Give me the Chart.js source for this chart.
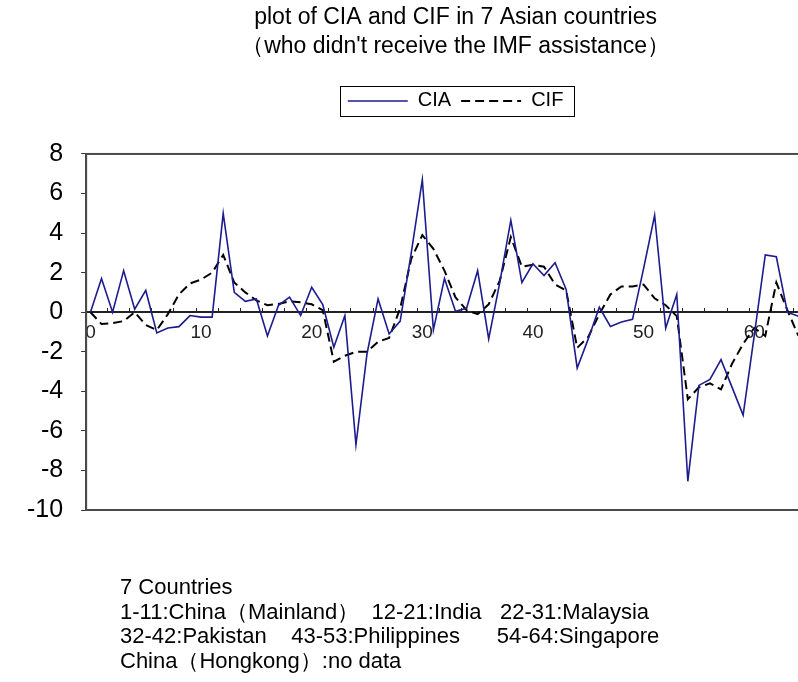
<!DOCTYPE html>
<html>
<head>
<meta charset="utf-8">
<title>plot of CIA and CIF</title>
<script src="https://cdn.jsdelivr.net/npm/chart.js@4.4.0/dist/chart.umd.min.js"></script>
<style>
    html, body { margin: 0; padding: 0; background: #ffffff; overflow: hidden; }
    #wrap { width: 798px; height: 682px; overflow: hidden; position: relative; }
    canvas { display: block; }
</style>
</head>
<body>
<div id="wrap"><canvas id="chart" width="830" height="682"></canvas></div>
<script>
// observation number (countries stacked one after another)
const obsNo = [0, 1, 2, 3, 4, 5, 6, 7, 8, 9,
    10, 11, 12, 13, 14, 15, 16, 17, 18, 19,
    20, 21, 22, 23, 24, 25, 26, 27, 28, 29,
    30, 31, 32, 33, 34, 35, 36, 37, 38, 39,
    40, 41, 42, 43, 44, 45, 46, 47, 48, 49,
    50, 51, 52, 53, 54, 55, 56, 57, 58, 59,
    60, 61, 62, 63, 64];

const ciaValues = [0, 1.7, 0, 2.1, 0.15, 1.1, -1.05, -0.8, -0.73, -0.17,
    -0.25, -0.25, 5.0, 1.0, 0.55, 0.67, -1.2, 0.35, 0.76, -0.17,
    1.26, 0.38, -1.77, -0.17, -6.7, -2.1, 0.67, -1.1, -0.45, 3.0,
    6.7, -0.9, 1.7, 0.05, 0.2, 2.1, -1.35, 1.5, 4.65, 1.5,
    2.45, 1.85, 2.5, 1.15, -2.82, -1.35, 0.25, -0.72, -0.5, -0.36,
    2.2, 4.9, -0.8, 0.9, -8.55, -3.7, -3.4, -2.4, -3.8, -5.2,
    -1.2, 2.9, 2.8, 0, -0.2];

const cifValues = [0, -0.6, -0.55, -0.45, 0, -0.65, -0.9, -0.1, 0.9, 1.45,
    1.65, 2.0, 2.9, 1.5, 1.0, 0.6, 0.35, 0.42, 0.55, 0.5,
    0.4, 0.1, -2.5, -2.2, -2.0, -2.0, -1.5, -1.3, 0.2, 2.7,
    3.9, 3.2, 2.1, 0.75, 0.1, -0.1, 0.4, 1.6, 3.8, 2.3,
    2.4, 2.3, 1.4, 1.1, -1.8, -1.25, -0.1, 0.9, 1.3, 1.3,
    1.4, 0.7, 0.35, -0.2, -4.4, -3.8, -3.6, -3.9, -2.6, -1.6,
    -0.8, -1.2, 1.5, 0.1, -1.2];

const xTickLabels = [0, 10, 20, 30, 40, 50, 60];
const yTickStep = 2;

const titleLines = ['plot of CIA and CIF in 7 Asian countries', '（who didn\'t receive the IMF assistance）'];
const noteLines = [
    '7 Countries',
    '1-11:China（Mainland）  12-21:India   22-31:Malaysia',
    '32-42:Pakistan    43-53:Philippines      54-64:Singapore',
    'China（Hongkong）:no data'
];

const FONT = '"Liberation Sans", Arial, sans-serif';

const toPoints = (vals) => obsNo.map((x, i) => ({ x: x, y: vals[i] }));

// plot area frame + small upward tick marks on the zero line
const frameMarks = {
    id: 'frameMarks',
    beforeDatasetsDraw(chart) {
        const { ctx, chartArea: a, scales } = chart;
        ctx.save();
        ctx.strokeStyle = '#4a4a4a';
        ctx.lineWidth = 2;
        ctx.strokeRect(a.left, a.top, a.right - a.left, a.bottom - a.top);

        const y0 = Math.round(scales.y.getPixelForValue(0));
        ctx.strokeStyle = '#222';
        ctx.lineWidth = 1;
        ctx.beginPath();
        for (let v = 1.5; v < scales.x.max; v += 2) {
            const px = Math.round(scales.x.getPixelForValue(v)) + 0.5;
            ctx.moveTo(px, y0);
            ctx.lineTo(px, y0 - 4);
        }
        ctx.stroke();
        ctx.restore();
    }
};

// border around the legend items + footnote text
const legendBoxAndNotes = {
    id: 'legendBoxAndNotes',
    afterDraw(chart) {
        const { ctx } = chart;
        const boxes = chart.legend.legendHitBoxes;
        if (boxes && boxes.length) {
            const left = Math.min(...boxes.map(b => b.left)) - 8;
            const right = Math.max(...boxes.map(b => b.left + b.width)) + 10;
            const top = Math.min(...boxes.map(b => b.top)) - 5;
            const bottom = Math.max(...boxes.map(b => b.top + b.height)) + 5;
            ctx.save();
            ctx.strokeStyle = '#000';
            ctx.lineWidth = 1;
            ctx.strokeRect(Math.round(left) + 0.5, Math.round(top) + 0.5, Math.round(right - left), Math.round(bottom - top));
            ctx.restore();
        }

        ctx.save();
        ctx.fillStyle = '#000';
        ctx.font = '22px ' + FONT;
        ctx.textBaseline = 'middle';
        ctx.textAlign = 'left';
        noteLines.forEach((line, i) => {
            ctx.fillText(line, 120, 588 + i * 24.7);
        });
        ctx.restore();
    }
};

const ctx = document.getElementById('chart').getContext('2d');

new Chart(ctx, {
    type: 'line',
    data: {
        datasets: [
            {
                label: 'CIA',
                data: toPoints(ciaValues),
                borderColor: '#1c1c8e',
                backgroundColor: '#1c1c8e',
                borderWidth: 1.6,
                pointRadius: 0,
                tension: 0,
                fill: false
            },
            {
                label: 'CIF',
                data: toPoints(cifValues),
                borderColor: '#000000',
                backgroundColor: '#000000',
                borderWidth: 2,
                borderDash: [9, 5],
                pointRadius: 0,
                tension: 0,
                fill: false
            }
        ]
    },
    options: {
        responsive: false,
        animation: false,
        devicePixelRatio: 1,
        layout: {
            padding: { left: 9, right: 5, top: 0, bottom: 172 }
        },
        plugins: {
            title: {
                display: true,
                text: titleLines,
                fullSize: false,
                color: '#000',
                font: { family: FONT, size: 23, weight: 'normal', lineHeight: 1.26 },
                padding: { top: 3.5, bottom: 19.5 }
            },
            legend: {
                display: true,
                position: 'top',
                fullSize: false,
                labels: {
                    usePointStyle: true,
                    pointStyle: 'line',
                    pointStyleWidth: 60,
                    color: '#000',
                    padding: 10,
                    font: { family: FONT, size: 20 },
                    // keep the dash pattern of each series in its legend line
                    generateLabels: (chart) => {
                        const items = Chart.defaults.plugins.legend.labels.generateLabels(chart);
                        return items.map(item => {
                            const ds = chart.data.datasets[item.datasetIndex];
                            item.lineDash = ds.borderDash || [];
                            item.lineWidth = ds.borderWidth;
                            item.strokeStyle = ds.borderColor;
                            return item;
                        });
                    }
                }
            },
            // empty spacer between the legend and the plot area
            subtitle: {
                display: true,
                text: ' ',
                fullSize: false,
                weight: 500,
                font: { size: 1, lineHeight: 1 },
                padding: { top: 0, bottom: 32 }
            },
            tooltip: { enabled: false }
        },
        scales: {
            x: {
                type: 'linear',
                min: -0.39,
                max: 66.4,
                position: { y: 0 },
                afterBuildTicks: (scale) => {
                    scale.ticks = xTickLabels.map(v => ({ value: v }));
                },
                grid: { display: false, drawTicks: false },
                border: { display: true, color: '#222', width: 2 },
                ticks: {
                    autoSkip: false,
                    maxRotation: 0,
                    color: '#222',
                    padding: 9,
                    font: { family: FONT, size: 19 }
                }
            },
            y: {
                min: -10,
                max: 8,
                ticks: {
                    stepSize: yTickStep,
                    color: '#000',
                    padding: 18,
                    font: { family: FONT, size: 25 }
                },
                grid: {
                    drawOnChartArea: false,
                    tickLength: 5,
                    color: '#333'
                },
                border: { display: true, color: '#4a4a4a', width: 2 }
            }
        }
    },
    plugins: [frameMarks, legendBoxAndNotes]
});
</script>
</body>
</html>
